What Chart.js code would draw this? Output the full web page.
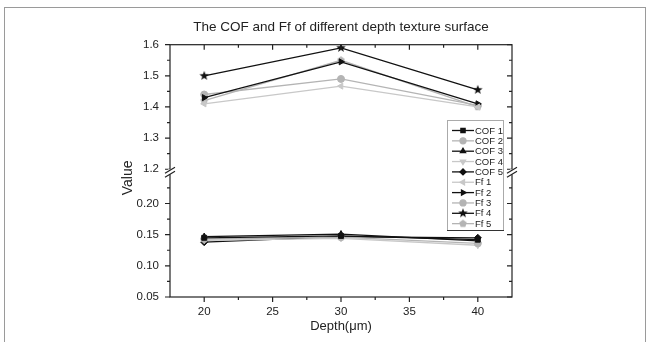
<!DOCTYPE html>
<html lang="en">
<head>
  <meta charset="UTF-8" />
  <title>COF and Ff of different depth texture surface</title>
  <script src="https://cdn.jsdelivr.net/npm/chart.js"></script>
  <style>
    html, body { margin: 0; padding: 0; background: #fff; }
    #wrap { width: 650px; height: 342px; }
  </style>
</head>
<body>
  <div id="wrap"><canvas id="chart" width="650" height="342"></canvas></div>

  <script>
    // depth (um) on the x axis
    const depths = [20, 30, 40];

    // coefficient of friction, lower panel
    const cof1 = [0.145, 0.148, 0.142];
    const cof2 = [0.143, 0.146, 0.136];
    const cof3 = [0.147, 0.151, 0.140];
    const cof4 = [0.141, 0.144, 0.133];
    const cof5 = [0.138, 0.147, 0.145];

    // friction force, upper panel
    const ff1 = [1.41, 1.467, 1.40];
    const ff2 = [1.43, 1.545, 1.41];
    const ff3 = [1.44, 1.49, 1.405];
    const ff4 = [1.50, 1.59, 1.455];
    const ff5 = [1.42, 1.55, 1.40];

    const xTicks = [20, 25, 30, 35, 40];
    const xMinor = [22.5, 27.5, 32.5, 37.5];
    const yHighTicks = [1.2, 1.3, 1.4, 1.5, 1.6];
    const yHighMinor = [1.25, 1.35, 1.45, 1.55];
    const yLowTicks = [0.05, 0.10, 0.15, 0.20];
    const yLowMinor = [0.075, 0.125, 0.175, 0.225];

    const FONT = "'Liberation Sans', Arial, sans-serif";
    const BLACK = "#111";
    const GRAY = "#b4b4b4";
    const LIGHT = "#c8c8c8";

    function starCanvas(r, color) {
      const c = document.createElement("canvas");
      c.width = c.height = r * 2 + 2;
      const g = c.getContext("2d");
      g.fillStyle = color;
      g.beginPath();
      for (let i = 0; i < 10; i++) {
        const rad = i % 2 === 0 ? r : r * 0.42;
        const a = -Math.PI / 2 + i * Math.PI / 5;
        g.lineTo(r + 1 + rad * Math.cos(a), r + 1 + rad * Math.sin(a));
      }
      g.closePath();
      g.fill();
      return c;
    }

    function pentagonCanvas(r, color) {
      const c = document.createElement("canvas");
      c.width = c.height = r * 2 + 2;
      const g = c.getContext("2d");
      g.fillStyle = color;
      g.beginPath();
      for (let i = 0; i < 5; i++) {
        const a = -Math.PI / 2 + i * 2 * Math.PI / 5;
        g.lineTo(r + 1 + r * Math.cos(a), r + 1 + r * Math.sin(a));
      }
      g.closePath();
      g.fill();
      return c;
    }

    function series(label, values, color, style, axis, rotation) {
      return {
        label: label,
        data: depths.map((d, i) => ({ x: d, y: values[i] })),
        yAxisID: axis,
        borderColor: color,
        backgroundColor: color,
        pointBackgroundColor: color,
        pointBorderColor: color,
        pointStyle: style,
        pointRotation: rotation || 0,
        pointRadius: 3.5,
        pointBorderWidth: 1,
        borderWidth: 1.3,
        tension: 0
      };
    }

    const datasets = [
      series("COF 1", cof1, BLACK, "rect", "yLow"),
      series("COF 2", cof2, GRAY, "circle", "yLow"),
      series("COF 3", cof3, BLACK, "triangle", "yLow"),
      series("COF 4", cof4, LIGHT, "triangle", "yLow", 180),
      series("COF 5", cof5, BLACK, "rectRot", "yLow"),
      series("Ff 1", ff1, LIGHT, "triangle", "yHigh", -90),
      series("Ff 2", ff2, BLACK, "triangle", "yHigh", 90),
      series("Ff 3", ff3, GRAY, "circle", "yHigh"),
      series("Ff 4", ff4, BLACK, starCanvas(5, BLACK), "yHigh"),
      series("Ff 5", ff5, GRAY, pentagonCanvas(4, GRAY), "yHigh")
    ];

    function setTicks(values) {
      return scale => { scale.ticks = values.map(v => ({ value: v })); };
    }

    // frame, tick marks, axis breaks, legend and the y title
    const decor = {
      id: "decor",
      afterDraw(chart) {
        const ctx = chart.ctx;
        const a = chart.chartArea;
        const sx = chart.scales.x, yH = chart.scales.yHigh, yL = chart.scales.yLow;
        ctx.save();

        ctx.strokeStyle = "#9a9a9a";
        ctx.lineWidth = 1;
        ctx.strokeRect(4.5, 7.5, 641, 340);

        ctx.strokeStyle = "#222";
        ctx.lineWidth = 1.2;
        ctx.strokeRect(a.left, a.top, a.right - a.left, a.bottom - a.top);

        ctx.beginPath();
        const tick = (x1, y1, x2, y2) => { ctx.moveTo(x1, y1); ctx.lineTo(x2, y2); };
        xTicks.forEach(v => { const x = sx.getPixelForValue(v); tick(x, a.bottom, x, a.bottom + 5); tick(x, a.top, x, a.top + 5); });
        xMinor.forEach(v => { const x = sx.getPixelForValue(v); tick(x, a.bottom, x, a.bottom + 3); tick(x, a.top, x, a.top + 3); });
        [[yH, yHighTicks, 5], [yH, yHighMinor, 3], [yL, yLowTicks, 5], [yL, yLowMinor, 3]].forEach(([s, vals, len]) => {
          vals.forEach(v => { const y = s.getPixelForValue(v); tick(a.left - len, y, a.left, y); tick(a.right - len, y, a.right, y); });
        });
        ctx.stroke();

        // axis breaks
        const by = yH.bottom;
        [a.left, a.right].forEach(x => {
          ctx.fillStyle = "#fff";
          ctx.fillRect(x - 2, by - 3, 4, 5);
          ctx.beginPath();
          tick(x - 5, by + 1, x + 5, by - 5);
          tick(x - 5, by + 5, x + 5, by - 1);
          ctx.stroke();
        });

        // y title
        ctx.fillStyle = "#222";
        ctx.font = "14px " + FONT;
        ctx.textAlign = "center";
        ctx.textBaseline = "middle";
        ctx.translate(128, (a.top + a.bottom) / 2 + 7);
        ctx.rotate(-Math.PI / 2);
        ctx.fillText("Value", 0, 0);
        ctx.restore();

        // legend
        ctx.save();
        const lx = 447, ly = 120, lw = 56, lh = 110, row = 10.35;
        ctx.fillStyle = "#fff";
        ctx.fillRect(lx, ly, lw, lh);
        ctx.strokeStyle = "#aaa";
        ctx.lineWidth = 1;
        ctx.strokeRect(lx + 0.5, ly + 0.5, lw, lh);
        ctx.strokeStyle = "#333";
        ctx.beginPath(); ctx.moveTo(lx, ly + lh + 0.5); ctx.lineTo(lx + lw + 1, ly + lh + 0.5); ctx.stroke();
        ctx.font = "9.5px " + FONT;
        ctx.textAlign = "left";
        ctx.textBaseline = "middle";
        chart.data.datasets.forEach((ds, i) => {
          const y = ly + 10.5 + i * row;
          ctx.strokeStyle = ds.borderColor;
          ctx.lineWidth = 1.3;
          ctx.beginPath(); ctx.moveTo(lx + 5, y); ctx.lineTo(lx + 27, y); ctx.stroke();
          ctx.fillStyle = ds.pointBackgroundColor;
          Chart.helpers.drawPoint(ctx, { pointStyle: ds.pointStyle, rotation: ds.pointRotation, radius: 3, borderWidth: 1 }, lx + 16, y);
          ctx.fillStyle = "#222";
          ctx.fillText(ds.label, lx + 28, y + 0.5);
        });
        ctx.restore();
      }
    };

    new Chart(document.getElementById("chart"), {
      type: "line",
      data: { datasets: datasets },
      plugins: [decor],
      options: {
        responsive: false,
        animation: false,
        layout: { padding: { left: 100, right: 138, top: 0, bottom: 0 } },
        plugins: {
          legend: { display: false },
          tooltip: { enabled: false },
          title: {
            display: true,
            fullSize: false,
            text: "The COF and Ff of different depth texture surface",
            color: "#222",
            font: { family: FONT, size: 13.5, weight: "normal" },
            padding: { top: 19, bottom: 9.5 }
          }
        },
        scales: {
          x: {
            type: "linear",
            min: 17.5,
            max: 42.5,
            afterBuildTicks: setTicks(xTicks),
            afterFit: s => { s.height = 45; },
            grid: { display: false, drawTicks: false },
            border: { display: false },
            ticks: { color: "#222", padding: 8, font: { family: FONT, size: 11.5 } },
            title: { display: true, text: "Depth(μm)", color: "#222", font: { family: FONT, size: 13 }, padding: { top: 0, bottom: 8 } }
          },
          // declared first so it sits at the bottom of the stack
          yLow: {
            type: "linear",
            position: "left",
            stack: "value",
            stackWeight: 124,
            min: 0.05,
            max: 0.25,
            afterBuildTicks: setTicks(yLowTicks),
            afterFit: s => { s.width = 70; },
            grid: { display: false, drawTicks: false },
            border: { display: false },
            ticks: { color: "#222", padding: 11, font: { family: FONT, size: 11.5 }, callback: v => v.toFixed(2) }
          },
          yHigh: {
            type: "linear",
            position: "left",
            stack: "value",
            stackWeight: 127,
            min: 1.19,
            max: 1.6,
            afterBuildTicks: setTicks(yHighTicks),
            afterFit: s => { s.width = 70; },
            grid: { display: false, drawTicks: false },
            border: { display: false },
            ticks: { color: "#222", padding: 11, font: { family: FONT, size: 11.5 }, callback: v => v.toFixed(1) }
          }
        }
      }
    });
  </script>
</body>
</html>
